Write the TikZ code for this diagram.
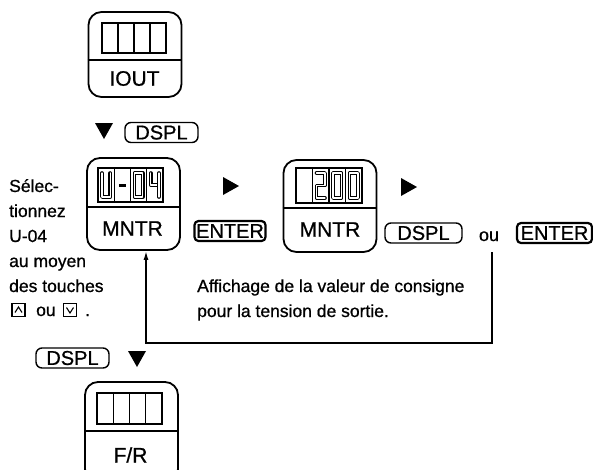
\documentclass[tikz,border=0pt]{standalone}
\usepackage{fontspec}
\setmainfont{Liberation Sans}[FakeBold=0.8]
\usetikzlibrary{arrows.meta}
\newcommand{\hseg}[1]{\draw[segout] #1; \draw[segin] #1;}
\tikzset{
  device/.style={draw, line width=1.8pt, rounded corners=13pt, minimum width=93pt, inner sep=0pt},
  divider/.style={line width=1.5pt},
  disp/.style={line width=1.4pt},
  lbl/.style={inner sep=0pt, font=\fontsize{21}{21}\selectfont},
  keybox/.style={draw, line width=1.4pt, rounded corners=6pt, minimum height=20pt, inner sep=0pt, font=\fontsize{20}{20}\selectfont},
  enterbox/.style={draw, line width=2.2pt, rounded corners=4pt, minimum height=20pt, inner sep=0pt, font=\fontsize{20}{20}\selectfont},
  ltext/.style={anchor=base west, inner sep=0pt, font=\fontsize{17.5}{20}\selectfont},
  segout/.style={line width=3.6pt, line cap=round, line join=round},
  segin/.style={white, line width=1.2pt, line cap=round, line join=round},
  smallkey/.style={draw, line width=1.1pt, minimum size=13pt, inner sep=0pt},
  fb/.style={line width=1.5pt, -{Latex[length=9pt,width=5pt]}},
  tridown/.pic={\fill (-9,-8) -- (9,-8) -- (0,8) -- cycle;},
  triright/.pic={\fill (-8,-9) -- (-8,9) -- (8,0) -- cycle;}
}
\begin{document}
\begin{tikzpicture}[x=1pt,y=-1pt]
\useasboundingbox (0,0) rectangle (593,469);
\clip (0,0) rectangle (593,469);
\fill[white] (0,0) rectangle (593,469);

% IOUT device
\node[device, minimum height=85pt] (iout) at (135,54.5) {};
\draw[divider] (iout.west |- 0,60) -- (iout.east |- 0,60);
\draw[disp] (102,23) rectangle (166,53);
\draw[disp] (118,23) -- (118,53) (134,23) -- (134,53) (150,23) -- (150,53);
\node[lbl] (ioutlbl) at (134.5,78.5) {IOUT};

% arrow + DSPL
\pic (tA) at (104,131) {tridown};
\node[keybox, minimum width=73pt] (dsplA) at (161.5,132.5) {DSPL};

% MNTR 1 (U-04)
\node[device, minimum height=92pt] (mntrA) at (133.5,204) {};
\draw[divider] (mntrA.west |- 0,207) -- (mntrA.east |- 0,207);
\draw[disp] (98,168) rectangle (163,202);
\draw[disp] (114.25,168) -- (114.25,202) (130.5,168) -- (130.5,202) (146.75,168) -- (146.75,202);
\hseg{(102,173) -- (102,197) -- (110.25,197) -- (110.25,173)}
\draw[line width=3pt] (119,185) -- (125.75,185);
\hseg{(134.5,173) rectangle (142.75,197)}
\hseg{(150.75,173) -- (150.75,185) -- (159,185)}
\hseg{(159,173) -- (159,197)}
\node[lbl] (mntrAlbl) at (132.5,228.5) {MNTR};

\pic (tB) at (231,186) {triright};
\node[enterbox, minimum width=71pt] (enterA) at (230,231) {ENTER};

% MNTR 2 (200)
\node[device, minimum height=92pt] (mntrB) at (330,206) {};
\draw[divider] (mntrB.west |- 0,208) -- (mntrB.east |- 0,208);
\draw[disp] (296,168) rectangle (362,203);
\draw[disp] (312.5,168) -- (312.5,203) (329,168) -- (329,203) (345.5,168) -- (345.5,203);
\hseg{(316.5,173) -- (325,173) -- (325,185.5) -- (316.5,185.5) -- (316.5,198) -- (325,198)}
\hseg{(333,173) rectangle (341.5,198)}
\hseg{(349.5,173) rectangle (358,198)}
\node[lbl] (mntrBlbl) at (330,229.5) {MNTR};

\pic (tC) at (409,187) {triright};
\node[keybox, minimum width=77pt] (dsplB) at (423.5,233) {DSPL};
\node[inner sep=0pt, anchor=base, font=\fontsize{18}{20}\selectfont] (ouR) at (489,241) {ou};
\node[enterbox, minimum width=75pt] (enterB) at (554.5,233) {ENTER};

% feedback connector
\coordinate (fbstart) at (492,252);
\coordinate (fbend) at ([xshift=12.5pt]mntrA.south);
\draw[fb] (fbstart) -- (492,343) -| (fbend);

% description
\node[ltext] (descA) at (197,292) {Affichage de la valeur de consigne};
\node[ltext] (descB) at (197,317) {pour la tension de sortie.};

% left instructions
\node[ltext] (lt1) at (9,192) {Sélec-};
\node[ltext] (lt2) at (9,217) {tionnez};
\node[ltext] (lt3) at (9,242) {U-04};
\node[ltext] (lt4) at (9,267) {au moyen};
\node[ltext] (lt5) at (9,292) {des touches};
\node[smallkey] (kup) at (18.5,310) {};
\draw[line width=1.1pt] ([shift={(-3.5,2.5)}]kup.center) -- ([shift={(0,-3)}]kup.center) -- ([shift={(3.5,2.5)}]kup.center);
\node[ltext] (lt6) at (36,316) {ou};
\node[smallkey] (kdown) at (70,310) {};
\draw[line width=1.1pt] ([shift={(-3.5,-2.5)}]kdown.center) -- ([shift={(0,3)}]kdown.center) -- ([shift={(3.5,-2.5)}]kdown.center);
\node[ltext] (lt7) at (85,316) {.};

% DSPL + arrow to F/R
\node[keybox, minimum width=73pt] (dsplC) at (72.5,358) {DSPL};
\pic (tD) at (137,359) {tridown};

% F/R device
\node[device, minimum height=100pt] (fr) at (131.5,432) {};
\draw[divider] (fr.west |- 0,431) -- (fr.east |- 0,431);
\draw[disp] (97,393) rectangle (162,424);
\draw[disp] (113.25,393) -- (113.25,424) (129.5,393) -- (129.5,424) (145.75,393) -- (145.75,424);
\node[lbl] (frlbl) at (130.5,455) {F/R};
\end{tikzpicture}
\end{document}
